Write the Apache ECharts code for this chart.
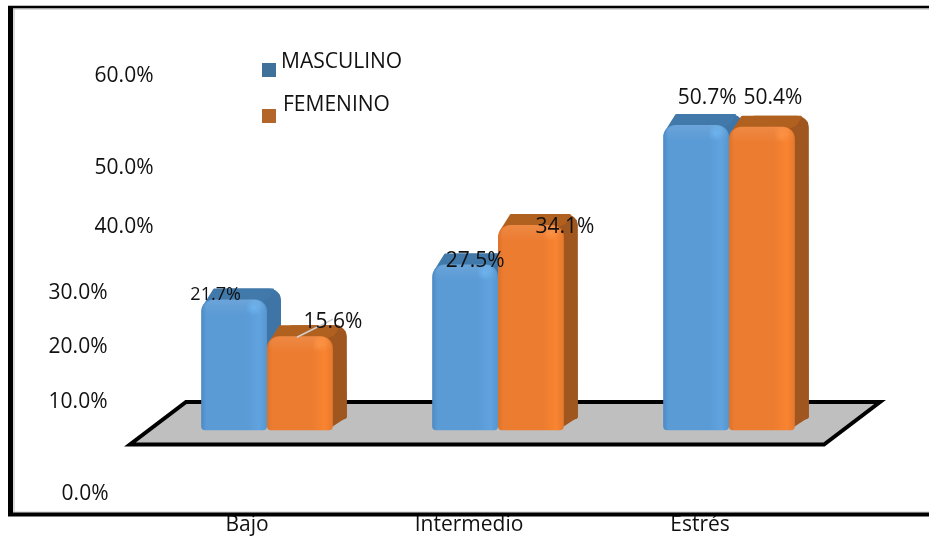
<!DOCTYPE html>
<html>
<head>
<meta charset="utf-8">
<style>html,body{margin:0;padding:0;background:#fff}#chart{width:929px;height:536px}</style>
<script src="https://cdn.jsdelivr.net/npm/echarts@6/dist/echarts.min.js"></script>
</head>
<body>
<div id="chart"></div>
<script>
var categories = ['Bajo', 'Intermedio', 'Estrés'];
var masculino = [21.7, 27.5, 50.7];
var femenino = [15.6, 34.1, 50.4];
var tickLabels = ['60.0%', '50.0%', '40.0%', '30.0%', '20.0%', '10.0%', '0.0%'];
// The source places its tick labels by hand, not at their true values
var tickAnchors = [58.9, 43.6, 33.8, 22.7, 13.8, 4.7, -10.6];
var tickPad = [0, 0, 0, 46, 46, 46, 45];
var catPad = [40, 58, 58];
var FONT = '"Open Sans", sans-serif';

var mascOffsets = [[-18.5, -5], [10, -4], [11, -27]];
var femOffsets = [[33, -14], [34, 2], [11, -29]];

var chart = echarts.init(document.getElementById('chart'), null, {renderer: 'canvas'});

function faceGradient(c) {
  return new echarts.graphic.LinearGradient(0, 0, 1, 0, [
    {offset: 0, color: c[0]}, {offset: 0.08, color: c[1]},
    {offset: 0.68, color: c[1]}, {offset: 0.88, color: c[2]}, {offset: 1, color: c[3]}
  ]);
}

function bar3d(sign, pal, offsets, baseZ, labelSize) {
  return function (params, api) {
    var idx = api.value(0), v = api.value(1);
    var band = api.size([1, 0])[0];
    var w = band * 0.285, dx = 14, dy = 11;
    var c = api.coord([idx, v]), b = api.coord([idx, 0]);
    var x = sign < 0 ? c[0] - w : c[0], top = c[1], bot = b[1];
    var off = offsets[idx];
    var cx = x + w / 2;
    var r = 12;
    var kids = [
      {type: 'rect', z2: baseZ, shape: {x: x + dx, y: top - dy, width: w, height: bot - top, r: [r, r, 3, 3]}, style: {fill: pal.side}},
      {type: 'polygon', z2: baseZ, shape: {points: [[x + 3, top + 6], [x + 13, top - dy + 1], [x + w + dx - 8, top - dy + 1], [x + w - 4, top + 6]]},
        style: {fill: pal.top, stroke: pal.top, lineWidth: 2, lineJoin: 'round'}},
      {type: 'polygon', z2: baseZ, shape: {points: [[x + w - 6, top + 2], [x + w + dx - 1, top - dy + 6], [x + w + dx, bot - dy - 2], [x + w - 6, bot]]}, style: {fill: pal.side}},
      {type: 'rect', z2: baseZ + 1, shape: {x: x, y: top, width: w, height: bot - top, r: [r, r, 4, 4]}, style: {fill: faceGradient(pal.face)}},
      {type: 'rect', z2: baseZ + 2, shape: {x: x + 2, y: top, width: w - 4, height: 16, r: [r, r, 0, 0]},
        style: {fill: new echarts.graphic.LinearGradient(0, 0, 0, 1, [
          {offset: 0, color: 'rgba(255,255,255,0.10)'}, {offset: 1, color: 'rgba(255,255,255,0)'}])}},
      {type: 'circle', z2: baseZ + 2, shape: {cx: x + w - 13, cy: top + 8, r: 8},
        style: {fill: new echarts.graphic.RadialGradient(0.5, 0.5, 0.5, [
          {offset: 0, color: pal.glow}, {offset: 1, color: pal.glow0}])}},
      {type: 'text', z2: 100, style: {
        x: cx + off[0], y: top + off[1], text: v.toFixed(1) + '%',
        fill: '#111', font: labelSize(idx) + ' ' + FONT, align: 'center', verticalAlign: 'middle'}}
    ];
    if (sign > 0 && idx === 0) {
      kids.push({type: 'line', z2: 50, shape: {x1: cx - 3, y1: top + 1, x2: cx + 33, y2: top - 17},
        style: {stroke: '#cfcfcf', lineWidth: 1.5}});
    }
    return {type: 'group', children: kids};
  };
}

var bluePal = {side: '#3f75a6', top: '#4079aa', face: ['#4d8ac3', '#5a9ad5', '#60a3df', '#5696cf'], glow: 'rgba(110,185,245,0.75)', glow0: 'rgba(110,185,245,0)'};
var orangePal = {side: '#a0561f', top: '#b0601f', face: ['#db722b', '#ec7c30', '#f98430', '#e5782e'], glow: 'rgba(255,150,70,0.75)', glow0: 'rgba(255,150,70,0)'};

function pairs(arr) { return arr.map(function (v, i) { return [i, v]; }); }

chart.setOption({
  animation: false,
  backgroundColor: '#ffffff',
  textStyle: {fontFamily: FONT},
  grid: {left: 151.5, width: 693, top: 10, height: 500, containLabel: false},
  xAxis: {
    type: 'category', data: categories,
    axisLine: {show: false}, axisTick: {show: false}, splitLine: {show: false},
    axisLabel: {
      margin: 6, interval: 0, color: '#111', fontFamily: FONT, fontSize: 21,
      formatter: function (val, i) { return '{c' + i + '|' + val + '}'; },
      rich: {
        c0: {padding: [0, catPad[0], 0, 0], fontSize: 21, fontFamily: FONT, color: '#111'},
        c1: {padding: [0, catPad[1], 0, 0], fontSize: 21, fontFamily: FONT, color: '#111'},
        c2: {padding: [0, catPad[2], 0, 0], fontSize: 21, fontFamily: FONT, color: '#111'}
      }
    }
  },
  yAxis: [
    {type: 'value', min: -13.1, max: 69.8, show: false},
    {
      type: 'value', min: -13.1, max: 69.8, position: 'left',
      axisLine: {show: false}, axisTick: {show: false}, splitLine: {show: false},
      axisLabel: {
        margin: -2, customValues: tickAnchors, color: '#111',
        formatter: function (val) {
          var i = tickAnchors.indexOf(val);
          return tickPad[i] === 46 ? '{l|' + tickLabels[i] + '}' : tickPad[i] === 45 ? '{z|' + tickLabels[i] + '}' : '{h|' + tickLabels[i] + '}';
        },
        rich: {
          h: {fontSize: 21, fontFamily: FONT, color: '#111'},
          l: {fontSize: 21, fontFamily: FONT, color: '#111', padding: [0, 46, 0, 0]},
          z: {fontSize: 21, fontFamily: FONT, color: '#111', padding: [0, 45, 0, 0]}
        }
      }
    }
  ],
  legend: {
    orient: 'vertical', left: 262, top: 52, padding: 0, itemWidth: 14, itemHeight: 14, itemGap: 18,
    selectedMode: false,
    formatter: function (n) { return n === 'MASCULINO' ? '{m|' + n + '}' : '{f|' + n + '}'; },
    textStyle: {
      color: '#111', fontFamily: FONT, fontSize: 21,
      rich: {
        m: {fontSize: 21, fontFamily: FONT, color: '#111', padding: [0, 0, 15, 0]},
        f: {fontSize: 21, fontFamily: FONT, color: '#111', padding: [0, 0, 21, 2]}
      }
    },
    data: [
      {name: 'MASCULINO', icon: 'rect', itemStyle: {color: '#3f719b'}},
      {name: 'FEMENINO', icon: 'rect', itemStyle: {color: '#b3652a'}}
    ]
  },
  series: [
    {name: 'MASCULINO', type: 'custom', z: 3, data: pairs(masculino), encode: {x: 0, y: 1}, itemStyle: {color: '#3f719b'},
      renderItem: bar3d(-1, bluePal, mascOffsets, 1, function (i) { return i === 0 ? '18px' : '21px'; })},
    {name: 'FEMENINO', type: 'custom', z: 3, data: pairs(femenino), encode: {x: 0, y: 1}, itemStyle: {color: '#b3652a'},
      renderItem: bar3d(1, orangePal, femOffsets, 10, function () { return '21px'; })}
  ],
  graphic: [
    {type: 'polygon', z: 0, shape: {points: [[186, 402], [880, 402], [824, 444.5], [130, 444.5]]},
      style: {fill: '#bfbfbf', stroke: '#000', lineWidth: 4, lineJoin: 'miter', miterLimit: 10}},
    {type: 'line', z: 1, shape: {x1: 13, y1: 512, x2: 929, y2: 512}, style: {stroke: '#c8c8c8', lineWidth: 1}},
    {type: 'line', z: 1, shape: {x1: 14, y1: 9, x2: 14, y2: 512}, style: {stroke: '#d0d0d0', lineWidth: 1.5}},
    {type: 'line', z: 1, shape: {x1: 12, y1: 9, x2: 929, y2: 9}, style: {stroke: '#b8b8b8', lineWidth: 1}},
    {type: 'line', z: 2, shape: {x1: 8, y1: 7, x2: 929, y2: 7}, style: {stroke: '#000', lineWidth: 2.5}},
    {type: 'line', z: 2, shape: {x1: 10.5, y1: 6, x2: 10.5, y2: 516}, style: {stroke: '#000', lineWidth: 5}},
    {type: 'line', z: 2, shape: {x1: 8, y1: 514.5, x2: 929, y2: 514.5}, style: {stroke: '#000', lineWidth: 4}}
  ]
});
</script>
</body>
</html>
